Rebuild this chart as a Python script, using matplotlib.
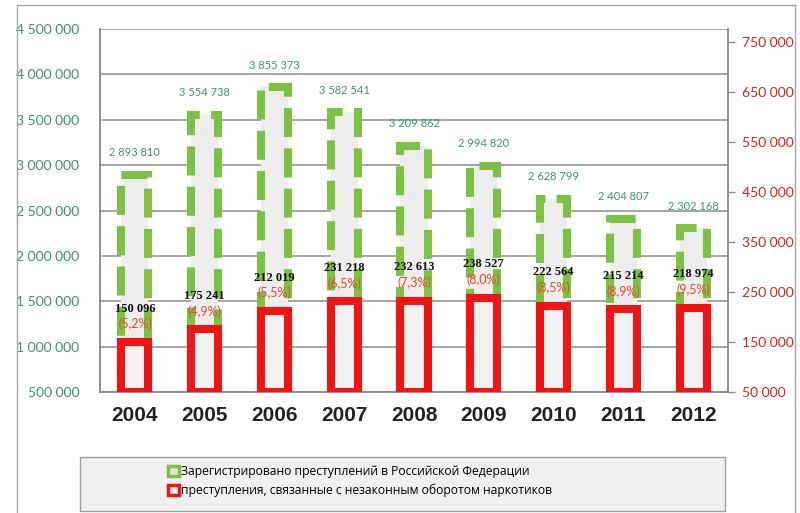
import matplotlib
matplotlib.use("Agg")
import matplotlib.pyplot as plt
from matplotlib.patches import Patch, Rectangle
from matplotlib.lines import Line2D
import numpy as np

years = ["2004", "2005", "2006", "2007", "2008", "2009", "2010", "2011", "2012"]
total_crimes = [2893810, 3554738, 3855373, 3582541, 3209862, 2994820, 2628799, 2404807, 2302168]
drug_crimes = [150096, 175241, 212019, 231218, 232613, 238527, 222564, 215214, 218974]
drug_share = ["5,2%", "4,9%", "5,5%", "6,5%", "7,3%", "8,0%", "8,5%", "8,9%", "9,5%"]
left_ticks = [500000, 1000000, 1500000, 2000000, 2500000, 3000000, 3500000, 4000000, 4500000]
right_ticks = [50000, 150000, 250000, 350000, 450000, 550000, 650000, 750000]
legend_labels = ["Зарегистрировано преступлений в Российской Федерации",
                 "преступления, связанные с незаконным оборотом наркотиков"]

GREEN = "#7cc242"
RED = "#f01414"
TEAL = "#3a9470"
TICK_RED = "#d92020"
FILL = "#ededed"

def fmt(v):
    return f"{v:,}".replace(",", " ")

fig = plt.figure(figsize=(8, 5.13), dpi=100)
ax = fig.add_axes([100/800, 1-392/513, 628/800, 363/513])
ax2 = ax.twinx()

x = np.arange(len(years))
w = 0.39
lw = 5.8

left_base = left_ticks[0]
right_base = right_ticks[0]

ax.bar(x, [v - left_base for v in total_crimes], width=w, bottom=left_base, facecolor=FILL,
       edgecolor=GREEN, linewidth=lw, linestyle=(0, (3.6, 1.4)), zorder=2)
ax2.bar(x, [v - right_base for v in drug_crimes], width=w, bottom=right_base, facecolor="#f1f1f1",
        edgecolor=RED, linewidth=lw, zorder=3)

ax.set_xlim(-0.5, len(years) - 0.5)
ax.set_ylim(500000, 4500000)
ax2.set_ylim(50000, 776000)

ax.set_yticks(left_ticks)
ax.set_yticklabels([fmt(v) for v in left_ticks], fontfamily="Lato", fontsize=10, color=TEAL)
ax2.set_yticks(right_ticks)
ax2.set_yticklabels([fmt(v) for v in right_ticks], fontfamily="Lato", fontsize=10, color=TICK_RED)

ax.set_xticks(x)
ax.set_xticklabels(years, fontfamily="Liberation Sans", fontweight="bold", fontsize=15, color="#222222")
ax.tick_params(axis="x", length=0, pad=10)
ax.tick_params(axis="y", length=0, pad=15)
ax2.tick_params(axis="y", length=5, width=1, color="#8c8c8c", pad=5, direction="out")

ax.grid(axis="y", color="#8c8c8c", linewidth=1.1)
ax.set_axisbelow(True)

for a in (ax, ax2):
    for s in a.spines.values():
        s.set_color("#8c8c8c")
        s.set_linewidth(1.1)
    a.spines["top"].set_visible(False)

for i, v in enumerate(total_crimes):
    ax.annotate(fmt(v), (x[i], v), xytext=(0, 16), textcoords="offset points",
                ha="center", va="center", fontsize=8, fontfamily="Lato", color=TEAL)

for i, v in enumerate(drug_crimes):
    ax2.annotate(fmt(v), (x[i], v), xytext=(0, 24), textcoords="offset points",
                 ha="center", va="center", fontsize=9, fontfamily="Liberation Serif",
                 fontweight="bold", color="#111111", zorder=5)
    ax2.annotate("(" + drug_share[i] + ")", (x[i], v), xytext=(0, 13), textcoords="offset points",
                 ha="center", va="center", fontsize=9, fontfamily="Lato", color="#e8482a", zorder=5)

# outer chart frame
for coords in ([(17/800, 17/800), (0, 1-5/513)], [(17/800, 795/800), (1-5/513, 1-5/513)],
               [(795/800, 795/800), (1-5/513, 0)]):
    fig.add_artist(Line2D(coords[0], coords[1], color="#a6a6a6", linewidth=1.0))

# legend box
fig.add_artist(Rectangle((80/800, 1-511/513), 645/800, 54/513, transform=fig.transFigure,
                         facecolor="#f0f0f0", edgecolor="#a0a0a0", linewidth=1.0))
handles = [Patch(facecolor="#dfe8d4", edgecolor=GREEN, linewidth=2.5),
           Patch(facecolor="#f6f6f6", edgecolor=RED, linewidth=2.5)]
fig.legend(handles, legend_labels, loc="center left", bbox_to_anchor=(162/800, 1-481/513),
           frameon=False, prop={"family": "Open Sans", "size": 8.7}, handlelength=0.9,
           handleheight=0.9, handletextpad=0.2, labelspacing=0.5, borderpad=0)

fig.savefig("out.png", dpi=100, facecolor="white")
